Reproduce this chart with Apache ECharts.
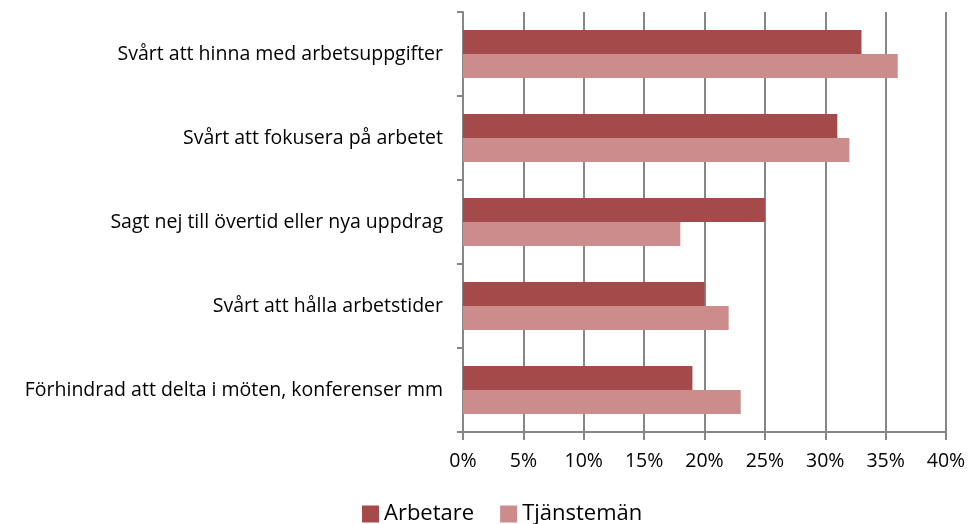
<!DOCTYPE html>
<html>
<head>
<meta charset="utf-8">
<script src="https://cdn.jsdelivr.net/npm/echarts@6/dist/echarts.min.js"></script>
<style>
  html, body { margin: 0; padding: 0; background: #fff; }
  #chart { width: 969px; height: 524px; }
</style>
</head>
<body>
<div id="chart"></div>
<script>
const categories = [
  'Svårt att hinna med arbetsuppgifter',
  'Svårt att fokusera på arbetet',
  'Sagt nej till övertid eller nya uppdrag',
  'Svårt att hålla arbetstider',
  'Förhindrad att delta i möten, konferenser mm'
]
const arbetare = [33, 31, 25, 20, 19]
const tjanstemän = [36, 32, 18, 22, 23]
const seriesNames = ['Arbetare', 'Tjänstemän']
const colors = ['#A44A4A', '#CC8C8C']

const axisGray = '#868686'
const font = 'Open Sans'

const chart = echarts.init(document.getElementById('chart'))
chart.setOption({
  animation: false,
  textStyle: { fontFamily: font },
  grid: { left: 463, right: 23, top: 12, bottom: 92, containLabel: false },
  legend: {
    top: 498,
    left: 357,
    itemWidth: 17,
    itemHeight: 17,
    itemGap: 26,
    icon: 'rect',
    textStyle: { fontSize: 22, color: '#000', fontFamily: font },
    data: seriesNames
  },
  xAxis: {
    type: 'value',
    min: 0,
    max: 40,
    interval: 5,
    axisLine: { show: true, lineStyle: { color: axisGray, width: 2 } },
    axisTick: { show: true, length: 8, lineStyle: { color: axisGray, width: 2 } },
    splitLine: { show: true, lineStyle: { color: axisGray, width: 2 } },
    axisLabel: { formatter: '{value}%', color: '#000', fontSize: 19.5, margin: 19 }
  },
  yAxis: {
    type: 'category',
    inverse: true,
    data: categories,
    axisLine: { show: true, lineStyle: { color: axisGray, width: 2 } },
    axisTick: { show: true, length: 6, lineStyle: { color: axisGray, width: 2 } },
    splitLine: { show: false },
    axisLabel: { color: '#000', fontSize: 19.5, margin: 20 }
  },
  series: [
    {
      name: seriesNames[0],
      type: 'bar',
      data: arbetare,
      itemStyle: { color: colors[0] },
      barGap: '0%',
      barCategoryGap: '43%'
    },
    {
      name: seriesNames[1],
      type: 'bar',
      data: tjanstemän,
      itemStyle: { color: colors[1] },
      barGap: '0%',
      barCategoryGap: '43%'
    }
  ]
})
</script>
</body>
</html>
